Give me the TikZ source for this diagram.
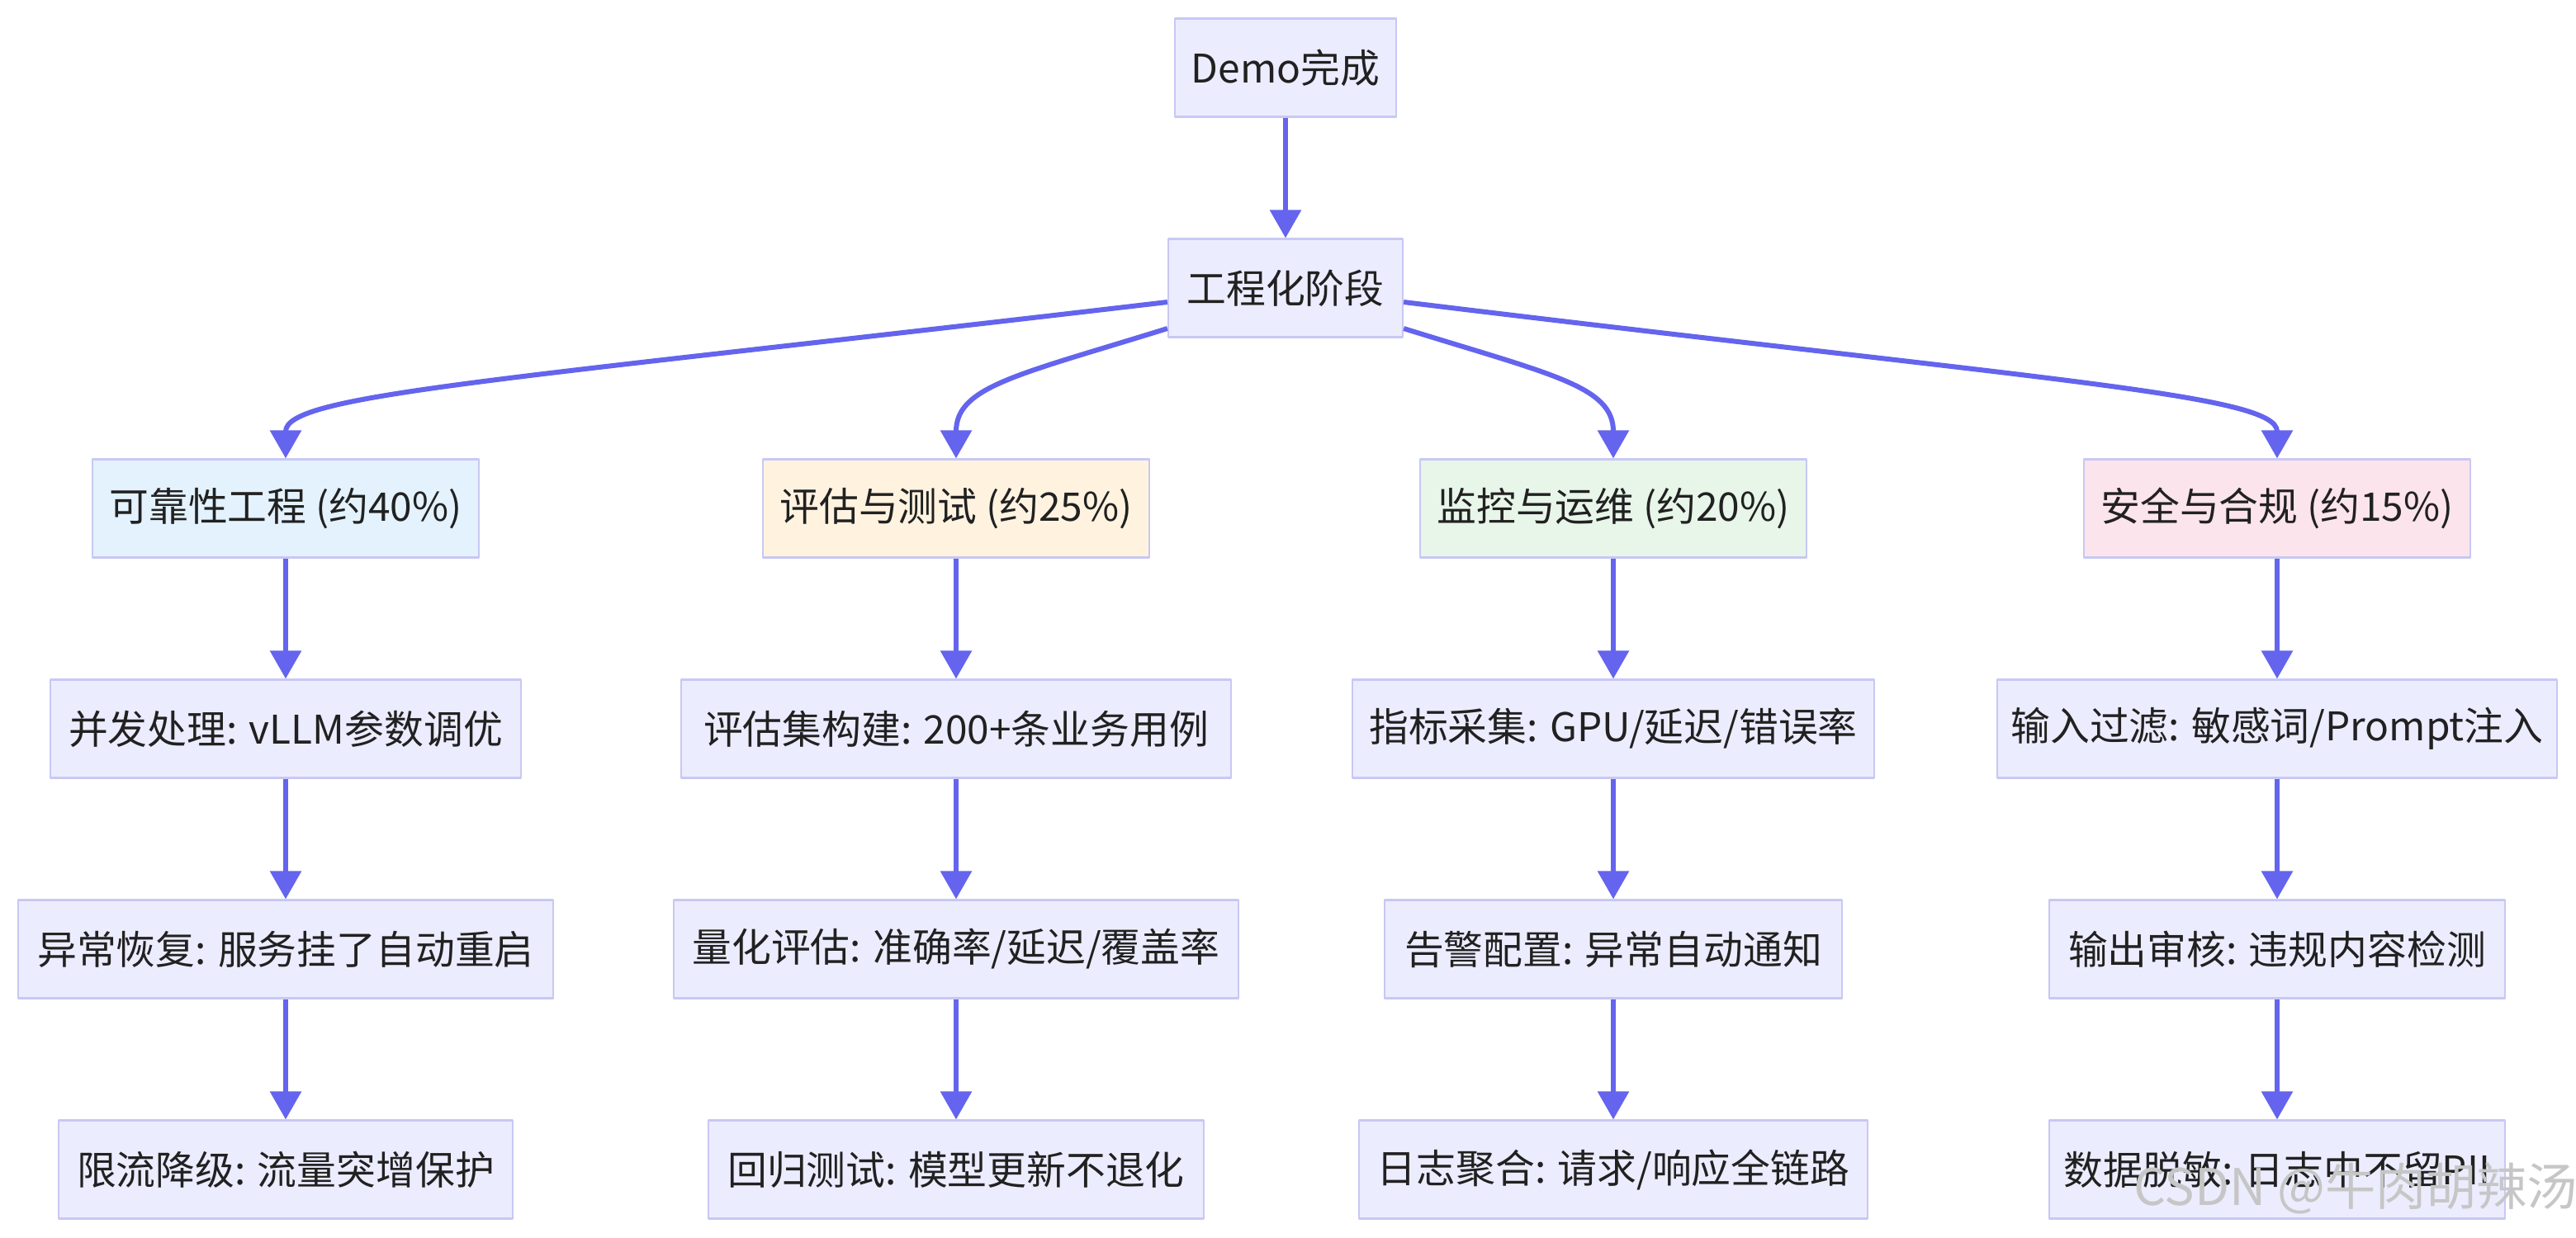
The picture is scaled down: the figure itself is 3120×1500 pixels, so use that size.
\documentclass[tikz,border=0pt]{standalone}
\usepackage{fontspec}
\setmainfont{Noto Sans CJK SC}
\usetikzlibrary{arrows.meta,calc}
\definecolor{boxfill}{HTML}{ECECFF}
\definecolor{boxline}{HTML}{C8C8F4}
\definecolor{flowcol}{HTML}{6464EE}
\definecolor{relfill}{HTML}{E3F2FD}
\definecolor{evafill}{HTML}{FFF3E0}
\definecolor{monfill}{HTML}{E8F5E9}
\definecolor{secfill}{HTML}{FCE4EC}
\begin{document}
\begin{tikzpicture}[x=0.01cm,y=-0.01cm,font=\fontsize{13.6}{16}\selectfont,line join=round,
  >={Triangle[width=0.37cm,length=0.34cm]},
  box/.style={draw=boxline,line width=0.6pt,fill=boxfill,text=black!87,minimum height=1.19cm,inner xsep=0.1cm},
  flow/.style={->,draw=flowcol,line width=0.06cm}]
\useasboundingbox (0,0) rectangle (3120,1500);
\node[box,minimum width=2.68cm] (demo) at (1557,82) {Demo完成};
\node[box,minimum width=2.84cm] (gc) at (1557,349) {工程化阶段};
\draw[flow] (demo) -- (gc);
\foreach \n/\x/\c/\t in {rel/346/relfill/{可靠性工程 (约40\%)},eva/1158/evafill/{评估与测试 (约25\%)},
  mon/1954/monfill/{监控与运维 (约20\%)},sec/2758/secfill/{安全与合规 (约15\%)}}
  \node[box,fill=\c,minimum width=4.68cm] (\n) at (\x,616) {\t};
\draw[flow] ($(gc.west)+(0,17)$) .. controls (597,462) and (346,478) .. (rel.north);
\draw[flow] ($(gc.west)+(0,49)$) .. controls (1234,454) and (1158,468) .. (eva.north);
\draw[flow] ($(gc.east)+(0,49)$) .. controls (1880,454) and (1954,468) .. (mon.north);
\draw[flow] ($(gc.east)+(0,17)$) .. controls (2487,462) and (2758,478) .. (sec.north);
\foreach \n/\x/\y/\w/\t in {
  rel1/346/883/5.69/{并发处理: vLLM参数调优},
  rel2/346/1150/6.47/{异常恢复: 服务挂了自动重启},
  rel3/346/1417/5.49/{限流降级: 流量突增保护},
  eva1/1158/883/6.66/{评估集构建: 200+条业务用例},
  eva2/1158/1150/6.84/{量化评估: 准确率/延迟/覆盖率},
  eva3/1158/1417/5.99/{回归测试: 模型更新不退化},
  mon1/1954/883/6.32/{指标采集: GPU/延迟/错误率},
  mon2/1954/1150/5.54/{告警配置: 异常自动通知},
  mon3/1954/1417/6.16/{日志聚合: 请求/响应全链路},
  sec1/2758/883/6.78/{输入过滤: 敏感词/Prompt注入},
  sec2/2758/1150/5.51/{输出审核: 违规内容检测},
  sec3/2758/1417/5.51/{数据脱敏: 日志中不留PII}}
  \node[box,minimum width=\w cm] (\n) at (\x,\y) {\t};
\foreach \a/\b in {rel/rel1,rel1/rel2,rel2/rel3,eva/eva1,eva1/eva2,eva2/eva3,
  mon/mon1,mon1/mon2,mon2/mon3,sec/sec1,sec1/sec2,sec2/sec3}
  \draw[flow] (\a) -- (\b);
\node[anchor=west,text=gray!45,font=\fontsize{17.4}{20}\selectfont] (wm) at (2572,1440) {CSDN @牛肉胡辣汤};
\end{tikzpicture}
\end{document}
